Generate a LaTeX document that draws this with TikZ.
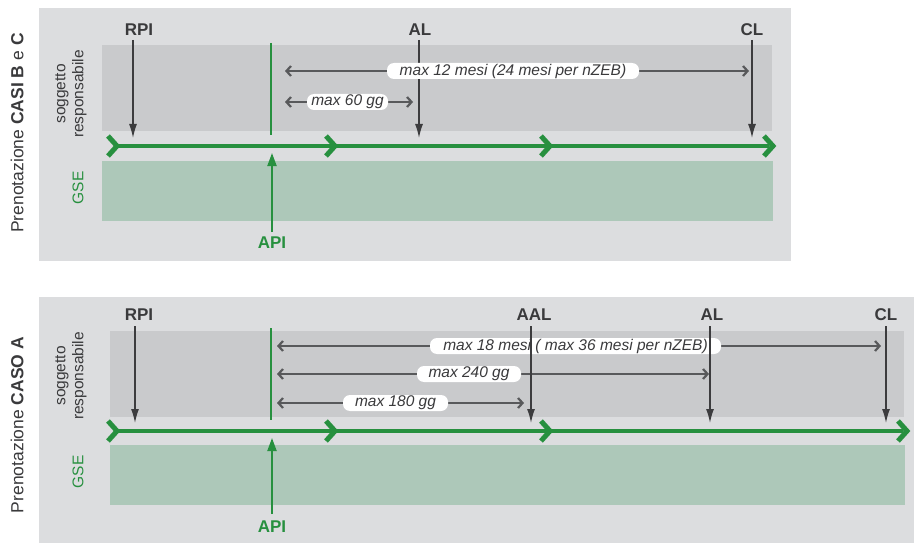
\documentclass[tikz,border=0pt]{standalone}
\usepackage{fontspec}
\setmainfont{Liberation Sans}
\usetikzlibrary{arrows.meta}
\definecolor{panelgray}{HTML}{DCDDDF}
\definecolor{bandgray}{HTML}{C9CACC}
\definecolor{bandgreen}{HTML}{ADC8B9}
\definecolor{tlgreen}{HTML}{27903F}
\definecolor{darkarrow}{HTML}{3C3C3E}
\definecolor{dimgray}{HTML}{58595B}
\definecolor{labtext}{HTML}{3A3A3C}
\newcommand\chevron[2]{\draw[tline, line width=5pt, line join=miter, line cap=butt] ({#1-9},{#2-10}) -- (#1,#2) -- ({#1-9},{#2+10});}
\begin{document}
\begin{tikzpicture}[x=1pt,y=-1pt,
  panel/.style={fill=panelgray, draw=none},
  sogband/.style={fill=bandgray, draw=none},
  gseband/.style={fill=bandgreen, draw=none},
  tline/.style={draw=tlgreen, line width=4pt},
  milestone/.style={font=\fontsize{17}{19}\selectfont\bfseries, text=labtext, inner sep=0pt},
  apilabel/.style={font=\fontsize{17}{19}\selectfont\bfseries, text=tlgreen, inner sep=0pt},
  evt/.style={draw=darkarrow, line width=1.4pt, -{Latex[length=14pt,width=8pt]}},
  apiarrow/.style={draw=tlgreen, line width=2pt, -{Triangle[length=13pt,width=9pt]}},
  apiline/.style={draw=tlgreen, line width=2pt},
  dim/.style={draw=dimgray, line width=1.4pt, {Straight Barb[length=4.5pt,width=10pt,line width=2.2pt]}-{Straight Barb[length=4.5pt,width=10pt,line width=2.2pt]}},
  pill/.style={fill=white, rounded corners=7pt, inner xsep=0pt, inner ysep=0pt, minimum height=16pt,
    font=\fontsize{15.5}{18}\selectfont\itshape, text=labtext},
  sidetitle/.style={rotate=90, font=\fontsize{17.5}{20}\selectfont, text=labtext, inner sep=0pt},
  sidesog/.style={rotate=90, font=\fontsize{15.5}{18}\selectfont, text=labtext, align=center, inner sep=0pt},
  sidegse/.style={rotate=90, font=\fontsize{15.5}{18}\selectfont, text=tlgreen, inner sep=0pt}
]
\useasboundingbox (0,0) rectangle (914,543);

% ================= TOP PANEL =================
\fill[panel] (39,8) rectangle (791,261);
\fill[sogband] (102,45) rectangle (772,131);
\fill[gseband] (102,161) rectangle (773,221);

\node[sidetitle] (t1) at (17,133) {Prenotazione \textbf{CASI B} e \textbf{C}};
\node[sidesog] (s1) at (71,94) {soggetto\\responsabile};
\node[sidegse] (g1) at (78,188) {GSE};

% timeline
\coordinate (a1s) at (116,146);
\coordinate (a1e) at (772,146);
\draw[tline] (a1s) -- ([xshift=-3pt]a1e);
\chevron{117}{146}
\chevron{335}{146}
\chevron{550}{146}
\chevron{773}{146}

% green API vertical line
\coordinate (v1t) at (271,43);
\coordinate (v1b) at (271,135);
\draw[apiline] (v1t) -- (v1b);

% milestones
\node[milestone] (rpi1) at (139,30) {RPI};
\node[milestone] (al1) at (420,30) {AL};
\node[milestone] (cl1) at (752,30) {CL};
\coordinate (rpi1t) at (133,40); \coordinate (rpi1b) at (133,138);
\coordinate (al1t) at (419,40);  \coordinate (al1b) at (419,138);
\coordinate (cl1t) at (752,40);  \coordinate (cl1b) at (752,138);
\draw[evt] (rpi1t) -- (rpi1b);
\draw[evt] (al1t) -- (al1b);
\draw[evt] (cl1t) -- (cl1b);

% API
\node[apilabel] (api1) at (272,243) {API};
\coordinate (api1s) at (272,232); \coordinate (api1e) at (272,153);
\draw[apiarrow] (api1s) -- (api1e);

% dimensions
\coordinate (d1s) at (285,71); \coordinate (d1e) at (749,71);
\draw[dim] (d1s) -- (d1e);
\node[pill, minimum width=252pt] (p1) at (513,71) {max 12 mesi (24 mesi per nZEB)};
\coordinate (d2s) at (285,102); \coordinate (d2e) at (413,102);
\draw[dim] (d2s) -- (d2e);
\node[pill, minimum width=81pt] (p2) at (347.5,102) {max 60 gg};

% ================= BOTTOM PANEL =================
\fill[panel] (39,297) rectangle (914,543);
\fill[sogband] (110,331) rectangle (904,417);
\fill[gseband] (110,445) rectangle (905,505);

\node[sidetitle] (t2) at (17,425) {Prenotazione \textbf{CASO A}};
\node[sidesog] (s2) at (71,376) {soggetto\\responsabile};
\node[sidegse] (g2) at (78,472) {GSE};

\coordinate (a2s) at (116,431);
\coordinate (a2e) at (906,431);
\draw[tline] (a2s) -- ([xshift=-3pt]a2e);
\chevron{117}{431}
\chevron{335}{431}
\chevron{550}{431}
\chevron{907}{431}

\coordinate (v2t) at (271,328);
\coordinate (v2b) at (271,420);
\draw[apiline] (v2t) -- (v2b);

\node[milestone] (rpi2) at (139,315) {RPI};
\node[milestone] (aal2) at (534,315) {AAL};
\node[milestone] (al2) at (712,315) {AL};
\node[milestone] (cl2) at (886,315) {CL};
\coordinate (rpi2t) at (135,326); \coordinate (rpi2b) at (135,423);
\coordinate (aal2t) at (531,326); \coordinate (aal2b) at (531,423);
\coordinate (al2t) at (710,326);  \coordinate (al2b) at (710,423);
\coordinate (cl2t) at (886,326);  \coordinate (cl2b) at (886,423);

% dimensions with labels, vertical arrows drawn over them
\coordinate (d3s) at (277,346); \coordinate (d3e) at (881,346);
\draw[dim] (d3s) -- (d3e);
\node[pill, minimum width=291pt] (p3) at (575.5,346) {max 18 mesi ( max 36 mesi per nZEB)};
\coordinate (d4s) at (277,374); \coordinate (d4e) at (709,374);
\draw[dim] (d4s) -- (d4e);
\node[pill, minimum width=104pt] (p4) at (469,374) {max 240 gg};
\coordinate (d5s) at (277,403); \coordinate (d5e) at (524,403);
\draw[dim] (d5s) -- (d5e);
\node[pill, minimum width=105pt] (p5) at (395.5,403) {max 180 gg};

\draw[evt] (rpi2t) -- (rpi2b);
\draw[evt] (aal2t) -- (aal2b);
\draw[evt] (al2t) -- (al2b);
\draw[evt] (cl2t) -- (cl2b);

\node[apilabel] (api2) at (272,527) {API};
\coordinate (api2s) at (272,514); \coordinate (api2e) at (272,438);
\draw[apiarrow] (api2s) -- (api2e);
\end{tikzpicture}
\end{document}
